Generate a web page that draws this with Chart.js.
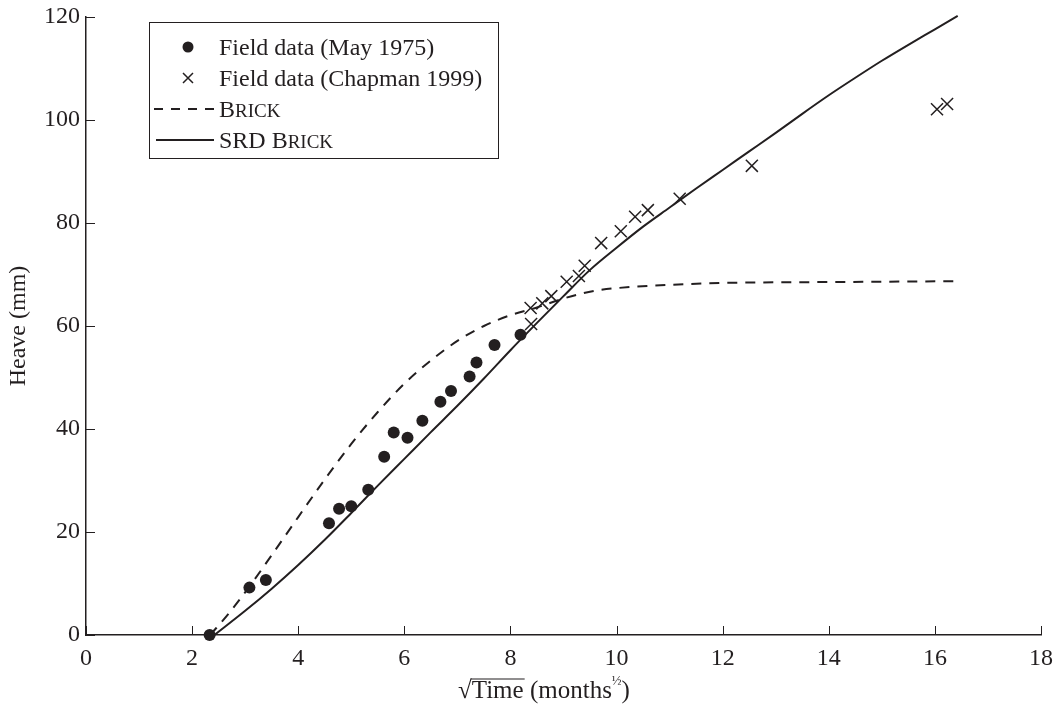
<!DOCTYPE html>
<html>
<head>
<meta charset="utf-8">
<title>Heave vs square root of time</title>
<script src="https://cdn.jsdelivr.net/npm/chart.js@4.4.1/dist/chart.umd.min.js"></script>
<style>
    html, body { margin: 0; padding: 0; background: #ffffff; }
    #contenedor { width: 1056px; height: 709px; }
</style>
</head>
<body>
<div id="contenedor">
    <canvas id="graficaHeave" width="1056" height="709"></canvas>
</div>
<script>

const ink = "#231f20";
const serif = "'Liberation Serif', 'Times New Roman', serif";

/* ===================================== */
/* DATA */
/* ===================================== */

// Field data (May 1975)
const mayX = [2.33, 3.08, 3.39, 4.58, 4.77, 5.0, 5.32, 5.62, 5.8, 6.06, 6.34, 6.68, 6.88, 7.23, 7.36, 7.7, 8.19];
const mayY = [0, 9.2, 10.7, 21.7, 24.5, 25.0, 28.2, 34.6, 39.3, 38.3, 41.6, 45.3, 47.4, 50.2, 52.9, 56.3, 58.3];

// Field data (Chapman 1999)
const chapmanX = [8.39, 8.38, 8.6, 8.77, 9.06, 9.29, 9.4, 9.71, 10.08, 10.35, 10.59, 11.19, 12.55, 16.04, 16.23];
const chapmanY = [60.4, 63.5, 64.4, 65.8, 68.6, 69.7, 71.7, 76.1, 78.4, 81.2, 82.5, 84.7, 91.1, 102.1, 103.1];

// BRICK
const brickX = [2.34, 2.7, 3.1, 3.5, 4.0, 4.5, 5.0, 5.5, 6.0, 6.5, 7.0, 7.5, 8.0, 8.5, 8.9, 9.3, 9.7, 10.3, 11.0, 12.2, 13.5, 15.0, 16.36];
const brickY = [0, 4.3, 9.7, 15.5, 22.9, 30.2, 37.1, 43.3, 48.8, 53.3, 57.1, 60.0, 62.1, 63.6, 65.0, 66.2, 67.0, 67.6, 68.0, 68.4, 68.5, 68.6, 68.7];

// SRD BRICK
const srdX = [2.42, 3.0, 3.5, 4.0, 4.5, 5.0, 5.5, 6.0, 6.5, 7.0, 7.5, 8.0, 8.5, 9.0, 9.5, 10.0, 10.5, 11.0, 11.5, 12.0, 12.5, 13.0, 13.5, 14.0, 14.5, 15.0, 15.5, 16.0, 16.43];
const srdY = [0, 4.7, 9.0, 13.6, 18.5, 23.7, 29.0, 34.2, 39.4, 44.5, 49.8, 55.3, 60.6, 65.8, 70.9, 75.2, 79.3, 83.0, 86.7, 90.3, 93.9, 97.5, 101.2, 104.8, 108.2, 111.5, 114.6, 117.6, 120.2];

// axes
const xTicks = [0, 2, 4, 6, 8, 10, 12, 14, 16, 18];
const yTicks = [0, 20, 40, 60, 80, 100, 120];

const legendLabels = ["Field data (May 1975)", "Field data (Chapman 1999)", "Brick", "SRD Brick"];

function toPoints(xs, ys) {
    return xs.map((x, i) => ({ x: x, y: ys[i] }));
}

/* ===================================== */
/* TEXT HELPERS */
/* ===================================== */

// lower case letters are drawn as small capitals
function drawSmallCaps(ctx, text, x, y, size) {

    let pos = x;
    let i = 0;

    while (i < text.length) {

        const lower = text[i] !== text[i].toUpperCase();
        let j = i;

        while (j < text.length && (text[j] !== text[j].toUpperCase()) === lower) {
            j++;
        }

        const piece = lower ? text.slice(i, j).toUpperCase() : text.slice(i, j);

        ctx.font = (lower ? Math.round(size * 0.78) : size) + "px " + serif;
        ctx.fillText(piece, pos, y);
        pos += ctx.measureText(piece).width;
        i = j;
    }
}

/* ===================================== */
/* PLUGINS */
/* ===================================== */

// tick marks pointing into the plot
const inwardTicks = {
    id: "inwardTicks",
    afterDraw(chart) {

        const ctx = chart.ctx;
        const x = chart.scales.x;
        const y = chart.scales.y;

        ctx.save();
        ctx.strokeStyle = ink;
        ctx.lineWidth = 1;
        ctx.beginPath();

        x.ticks.forEach(t => {
            const px = Math.round(x.getPixelForValue(t.value)) + 0.5;
            ctx.moveTo(px, y.bottom);
            ctx.lineTo(px, y.bottom - 9);
        });

        y.ticks.forEach(t => {
            const py = Math.round(y.getPixelForValue(t.value)) + 0.5;
            ctx.moveTo(x.left, py);
            ctx.lineTo(x.left + 9, py);
        });

        ctx.stroke();
        ctx.restore();
    }
};

// x title with square root sign and superscript half
const xTitle = {
    id: "xTitle",
    afterDraw(chart) {

        const ctx = chart.ctx;
        const size = 25;
        const base = 698;

        ctx.save();
        ctx.fillStyle = ink;
        ctx.strokeStyle = ink;
        ctx.textBaseline = "alphabetic";
        ctx.textAlign = "left";
        ctx.font = size + "px " + serif;

        const parts = ["\u221A", "Time", " (months", "\u00BD", ")"];
        const wRoot = ctx.measureText(parts[0]).width;
        const wTime = ctx.measureText(parts[1]).width;
        const wMonths = ctx.measureText(parts[2]).width;
        ctx.font = "13px " + serif;
        const wHalf = ctx.measureText(parts[3]).width;
        ctx.font = size + "px " + serif;
        const wClose = ctx.measureText(parts[4]).width;

        const total = wRoot + wTime + wMonths + wHalf + wClose;
        let pos = 544 - total / 2;

        ctx.fillText(parts[0], pos, base);
        const top = base - ctx.measureText(parts[0]).actualBoundingBoxAscent + 1;
        pos += wRoot;

        ctx.lineWidth = 1.2;
        ctx.beginPath();
        ctx.moveTo(pos - 1, top);
        ctx.lineTo(pos + wTime + 1, top);
        ctx.stroke();

        ctx.fillText(parts[1], pos, base);
        pos += wTime;
        ctx.fillText(parts[2], pos, base);
        pos += wMonths;

        ctx.font = "13px " + serif;
        ctx.fillText(parts[3], pos, base - 13);
        pos += wHalf;

        ctx.font = size + "px " + serif;
        ctx.fillText(parts[4], pos, base);

        ctx.restore();
    }
};

// boxed legend
const boxLegend = {
    id: "boxLegend",
    afterDraw(chart) {

        const ctx = chart.ctx;
        const box = { left: 149.5, top: 22.5, right: 498.5, bottom: 158.5 };
        const rows = [47, 78, 109, 140];
        const markX = 188;
        const textX = 219;

        ctx.save();
        ctx.fillStyle = "#ffffff";
        ctx.fillRect(box.left, box.top, box.right - box.left, box.bottom - box.top);
        ctx.strokeStyle = ink;
        ctx.lineWidth = 1;
        ctx.strokeRect(box.left, box.top, box.right - box.left, box.bottom - box.top);

        // circle
        ctx.fillStyle = ink;
        ctx.beginPath();
        ctx.arc(markX, rows[0], 5.5, 0, Math.PI * 2);
        ctx.fill();

        // cross
        ctx.lineWidth = 1.5;
        ctx.beginPath();
        ctx.moveTo(markX - 5, rows[1] - 5);
        ctx.lineTo(markX + 5, rows[1] + 5);
        ctx.moveTo(markX + 5, rows[1] - 5);
        ctx.lineTo(markX - 5, rows[1] + 5);
        ctx.stroke();

        // dashed
        ctx.lineWidth = 1.8;
        ctx.setLineDash([9, 8]);
        ctx.beginPath();
        ctx.moveTo(154, rows[2]);
        ctx.lineTo(214, rows[2]);
        ctx.stroke();

        // solid
        ctx.setLineDash([]);
        ctx.beginPath();
        ctx.moveTo(156, rows[3]);
        ctx.lineTo(214, rows[3]);
        ctx.stroke();

        ctx.fillStyle = ink;
        ctx.textBaseline = "alphabetic";
        ctx.textAlign = "left";

        legendLabels.forEach((label, i) => {
            if (i < 2) {
                ctx.font = "24px " + serif;
                ctx.fillText(label, textX, rows[i] + 8);
            } else {
                drawSmallCaps(ctx, label, textX, rows[i] + 8, 24);
            }
        });

        ctx.restore();
    }
};

/* ===================================== */
/* CHART */
/* ===================================== */

const ctx = document.getElementById("graficaHeave").getContext("2d");

new Chart(ctx, {

    type: "scatter",

    data: {

        datasets: [

            {
                label: legendLabels[0],
                data: toPoints(mayX, mayY),
                pointStyle: "circle",
                pointRadius: 6,
                backgroundColor: ink,
                borderColor: ink,
                borderWidth: 0,
                clip: false
            },

            {
                label: legendLabels[1],
                data: toPoints(chapmanX, chapmanY),
                pointStyle: "crossRot",
                pointRadius: 8.5,
                borderColor: ink,
                borderWidth: 1.5,
                clip: false
            },

            {
                label: legendLabels[2],
                data: toPoints(brickX, brickY),
                showLine: true,
                pointRadius: 0,
                borderColor: ink,
                borderWidth: 2,
                borderDash: [10, 8],
                cubicInterpolationMode: "monotone",
                fill: false
            },

            {
                label: legendLabels[3],
                data: toPoints(srdX, srdY),
                showLine: true,
                pointRadius: 0,
                borderColor: ink,
                borderWidth: 2,
                cubicInterpolationMode: "monotone",
                fill: false,
                clip: false
            }
        ]
    },

    options: {

        responsive: false,
        animation: false,
        events: [],

        layout: {
            padding: { top: 17, right: 15, left: 0, bottom: 0 }
        },

        plugins: {
            legend: { display: false },
            tooltip: { enabled: false }
        },

        scales: {

            x: {
                type: "linear",
                min: 0,
                max: 18,
                afterBuildTicks: s => { s.ticks = xTicks.map(v => ({ value: v })); },
                afterFit: s => {
                    s.height = 74;
                    s.paddingLeft = 0;
                    s.paddingRight = 0;
                },
                grid: { display: false, drawTicks: false },
                border: { display: true, color: ink, width: 1.5 },
                ticks: {
                    color: ink,
                    padding: 9,
                    maxRotation: 0,
                    autoSkip: false,
                    font: { family: serif, size: 24 }
                },
                title: { display: false }
            },

            y: {
                type: "linear",
                min: 0,
                max: 120,
                afterBuildTicks: s => { s.ticks = yTicks.map(v => ({ value: v })); },
                afterFit: s => {
                    s.width = 86;
                    s.paddingTop = 0;
                    s.paddingBottom = 0;
                },
                grid: { display: false, drawTicks: false },
                border: { display: true, color: ink, width: 1.5 },
                ticks: {
                    color: ink,
                    padding: 6,
                    autoSkip: false,
                    font: { family: serif, size: 24 }
                },
                title: {
                    display: true,
                    text: "Heave (mm)",
                    color: ink,
                    padding: { top: 4, bottom: 0 },
                    font: { family: serif, size: 24 }
                }
            }
        }
    },

    plugins: [inwardTicks, xTitle, boxLegend]
});

</script>
</body>
</html>
